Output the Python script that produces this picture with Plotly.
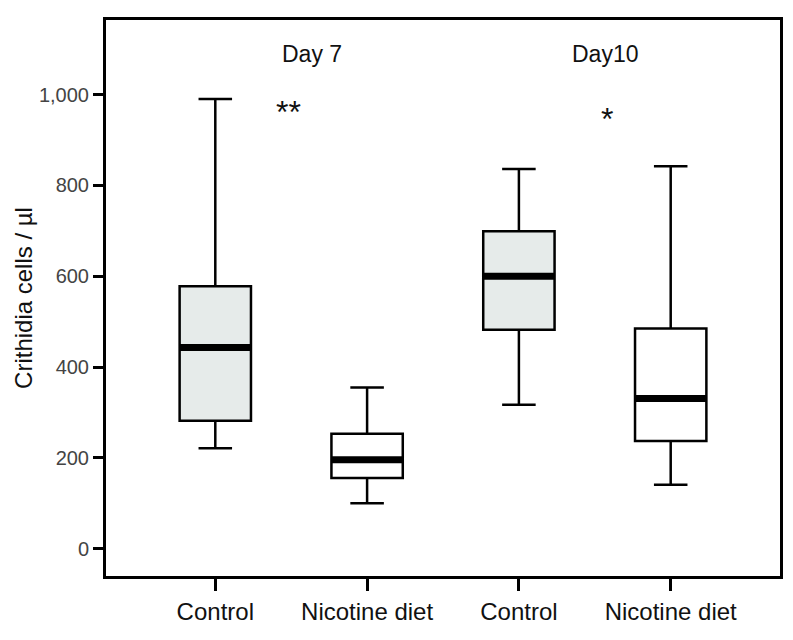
import plotly.graph_objects as go

# Crithidia counts per treatment
groups = ["Control", "Nicotine diet", "Control", "Nicotine diet"]
positions = [0, 1, 2, 3]
lower_whisker = [221, 100, 317, 141]
q1 = [282, 156, 482, 237]
median = [443, 196, 600, 331]
q3 = [578, 253, 699, 485]
upper_whisker = [990, 355, 836, 842]
fills = ["#E6EBEA", "#FFFFFF", "#E6EBEA", "#FFFFFF"]

day_labels = ["Day 7", "Day10"]
day_x = [0.64, 2.57]
stars = ["**", "*"]
star_x = [0.48, 2.58]
star_y = [962, 947]

box_w = 0.47
font = "Arial, Liberation Sans, sans-serif"

fig = go.Figure()

for i in range(len(groups)):
    fig.add_trace(go.Box(
        x=[positions[i]],
        q1=[q1[i]], median=[median[i]], q3=[q3[i]],
        lowerfence=[lower_whisker[i]], upperfence=[upper_whisker[i]],
        width=box_w, whiskerwidth=0.47,
        fillcolor=fills[i],
        line=dict(color="black", width=2.5),
        boxpoints=False, showlegend=False, hoverinfo="skip",
    ))
    # thick median bar
    fig.add_trace(go.Scatter(
        x=[positions[i] - box_w / 2, positions[i] + box_w / 2],
        y=[median[i], median[i]],
        mode="lines", line=dict(color="black", width=7),
        showlegend=False, hoverinfo="skip",
    ))

for label, x in zip(day_labels, day_x):
    fig.add_annotation(x=x, y=1090, text=label, showarrow=False,
                       font=dict(family=font, size=23, color="#111"))
for s, x, y in zip(stars, star_x, star_y):
    fig.add_annotation(x=x, y=y, text=s, showarrow=False,
                       font=dict(family=font, size=32, color="#111"))

fig.update_layout(
    width=793, height=640,
    paper_bgcolor="white", plot_bgcolor="white",
    margin=dict(l=98, r=21, t=9, b=72),
    font=dict(family=font, color="#111"),
)
fig.update_xaxes(
    range=[-0.72, 3.72],
    tickvals=positions, ticktext=groups,
    tickfont=dict(size=24, color="#111"),
    ticks="outside", ticklen=12, tickwidth=2.5, tickcolor="black",
    showline=True, linewidth=3, linecolor="black", mirror=True,
    showgrid=False, zeroline=False,
)
fig.update_yaxes(
    range=[-60, 1164],
    tickvals=[0, 200, 400, 600, 800, 1000], tickformat=",",
    tickfont=dict(size=20, color="#444"),
    ticks="outside", ticklen=10, tickwidth=2.5, tickcolor="black",
    showline=True, linewidth=3, linecolor="black", mirror=True,
    showgrid=False, zeroline=False,
    title=dict(text="Crithidia cells / µl", font=dict(size=24, color="#111"), standoff=0),
)

fig.write_html("out.html")
